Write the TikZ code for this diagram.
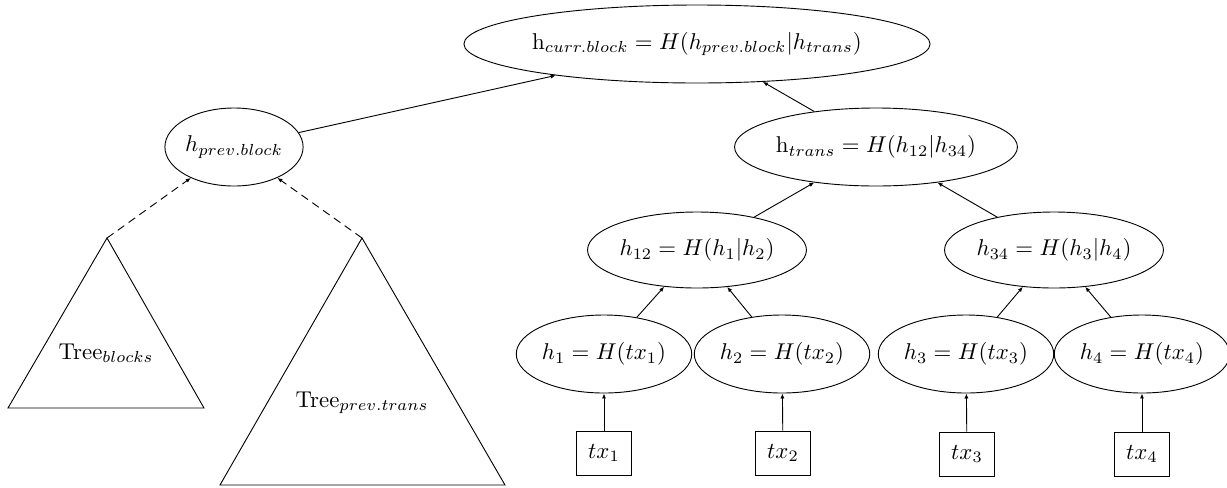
\documentclass[tikz,border=0pt]{standalone}
\usetikzlibrary{arrows.meta,shapes.geometric}
\newcommand\pxl{0.4376pt}
\begin{document}
\begin{tikzpicture}[x=0.4376pt, y=-0.4376pt,
  hash/.style={draw, ellipse, inner sep=0pt, minimum height=78*\pxl},
  txbox/.style={draw, rectangle, inner sep=0pt, minimum width=55*\pxl, minimum height=44*\pxl},
  link/.style={-{Latex[length=2.2pt,width=1.8pt]}},
  sublink/.style={link, dash pattern=on 3.5pt off 2.3pt}]
\useasboundingbox (0,0) rectangle (1227,487);

% block header
\node[hash, minimum width=449*\pxl] (curr) at (697,44) {h$_{curr.block} = H(h_{prev.block}|h_{trans})$};
\node[hash, minimum width=110*\pxl] (prev) at (234,147) {$h_{prev.block}$};
\node[hash, minimum width=273*\pxl] (trans) at (876,147) {h$_{trans} = H(h_{12}|h_{34})$};

% transaction Merkle tree
\node[hash, minimum width=211*\pxl, minimum height=76*\pxl] (h12) at (697,250) {$h_{12} = H(h_1|h_2)$};
\node[hash, minimum width=211*\pxl, minimum height=76*\pxl] (h34) at (1054,250) {$h_{34} = H(h_3|h_4)$};
\node[hash, minimum width=158*\pxl] (h1) at (604,354) {$h_1 = H(tx_1)$};
\node[hash, minimum width=165*\pxl] (h2) at (782,354) {$h_2 = H(tx_2)$};
\node[hash, minimum width=162*\pxl] (h3) at (966,354) {$h_3 = H(tx_3)$};
\node[hash, minimum width=166*\pxl] (h4) at (1142,354) {$h_4 = H(tx_4)$};
\node[txbox] (tx1) at (604,453) {$tx_1$};
\node[txbox] (tx2) at (783,453) {$tx_2$};
\node[txbox] (tx3) at (967,454) {$tx_3$};
\node[txbox] (tx4) at (1142,454) {$tx_4$};

% earlier trees
\coordinate (tbtop) at (107,238);
\coordinate (tptop) at (362,238);
\draw (tbtop) -- (204,408) -- (8,408) -- cycle;
\draw (tptop) -- (505,485) -- (220,485) -- cycle;
\node (tb) at (106,353) {Tree$_{blocks}$};
\node (tp) at (362,403) {Tree$_{prev.trans}$};

% connectors
\draw[link] (prev) -- (curr);
\draw[link] (trans) -- (curr);
\draw[link] (h12) -- (trans);
\draw[link] (h34) -- (trans);
\draw[link] (h1) -- (h12);
\draw[link] (h2) -- (h12);
\draw[link] (h3) -- (h34);
\draw[link] (h4) -- (h34);
\draw[link] (tx1) -- (h1);
\draw[link] (tx2) -- (h2);
\draw[link] (tx3) -- (h3);
\draw[link] (tx4) -- (h4);
\draw[sublink] (tbtop) -- (prev);
\draw[sublink] (tptop) -- (prev);
\end{tikzpicture}
\end{document}
